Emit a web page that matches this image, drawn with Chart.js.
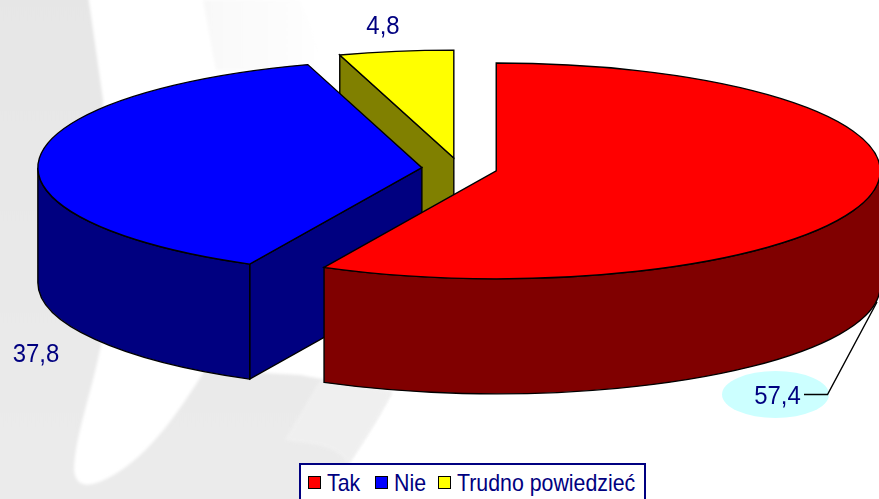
<!DOCTYPE html>
<html lang="pl">
<head>
<meta charset="utf-8">
<title>Wykres</title>
<script src="https://cdn.jsdelivr.net/npm/chart.js@4"></script>
<style>
    html, body { margin: 0; padding: 0; background: #fff; overflow: hidden; }
    #wrap { position: relative; width: 879px; height: 499px; overflow: hidden; font-family: "Liberation Sans", Arial, sans-serif; }
    #bg { position: absolute; left: 0; top: 0; }
    #chart { position: absolute; left: 0; top: 0; }
    #legend { position: absolute; left: 299px; top: 463px; width: 347px; height: 40px; box-sizing: border-box;
        border: 2px solid #000080; background: #fff; color: #000080; font-size: 23.2px; white-space: nowrap; }
    #legend span.item { position: absolute; top: 5px; line-height: 26px; transform: scaleX(0.92); transform-origin: left center; }
    #legend i { position: absolute; top: 11px; width: 11px; height: 11px; border: 1.5px solid #000; }
</style>
</head>
<body>
<div id="wrap">
    <svg id="bg" width="879" height="499">
        <defs>
            <linearGradient id="szary" x1="0" y1="0" x2="0" y2="1">
                <stop offset="0" stop-color="#e6e6e6"/>
                <stop offset="1" stop-color="#ebebeb"/>
            </linearGradient>
            <linearGradient id="jasny" x1="0" y1="0" x2="1" y2="0">
                <stop offset="0" stop-color="#f8f8f8"/>
                <stop offset="1" stop-color="#ffffff"/>
            </linearGradient>
            <filter id="miekki"><feGaussianBlur stdDeviation="1.5"/></filter>
        </defs>
        <path d="M203,0 L300,0 L330,70 L216,70 Z" fill="url(#jasny)" filter="url(#miekki)"/>
        <path filter="url(#miekki)" fill="url(#szary)"
            d="M-5,-5 L88,-5 L103,100 L102,340 C90,400 75,435 74,470 C76,490 92,487 112,476 C150,455 180,410 205,370 L300,375 L392,392 C375,425 360,445 345,470 L340,505 L-5,505 Z"/>
        <path filter="url(#miekki)" fill="#f2f2f2" opacity="0.7"
            d="M320,380 L392,392 C378,420 362,445 348,465 C335,440 300,445 285,440 Z"/>
    </svg>
    <canvas id="chart" width="879" height="499"></canvas>
    <div id="legend"></div>
</div>
<script>
    // Dane wykresu
    const categories = ['Tak', 'Nie', 'Trudno powiedzieć'];
    const values = [57.4, 37.8, 4.8];
    const topColors = ['#ff0000', '#0000ff', '#ffff00'];
    const wallColors = ['#800000', '#000080', '#808000'];

    // Wyglad "3D"
    const squash = 0.281;
    const depth = 115;
    const explode = 37.75;
    const navy = '#000080';

    // Sciana boczna i ramki wycinka, liczone z elementu arc
    function drawSlice(ctx, arc, i, cx, cy) {
        const start = arc.startAngle;
        const end = arc.endAngle;
        const r = arc.outerRadius;
        const mid = (start + end) / 2;
        const dx = Math.cos(mid) * explode;
        const dy = Math.sin(mid) * explode;
        const px = cx + dx;
        const py = cy + dy * squash;
        const pt = a => [px + r * Math.cos(a), py + r * squash * Math.sin(a)];

        ctx.lineWidth = 1.4;
        ctx.strokeStyle = '#000';
        ctx.fillStyle = wallColors[i];

        // sciana od strony ciecia
        if (Math.cos(start) < 0) {
            const p = pt(start);
            ctx.beginPath();
            ctx.moveTo(px, py);
            ctx.lineTo(p[0], p[1]);
            ctx.lineTo(p[0], p[1] + depth);
            ctx.lineTo(px, py + depth);
            ctx.closePath();
            ctx.fill();
            ctx.stroke();
        }

        // sciana zaokraglona, tylko dolna polowa elipsy
        const a0 = Math.max(start, 0);
        const a1 = Math.min(end, Math.PI);
        if (a1 > a0) {
            ctx.beginPath();
            ctx.ellipse(px, py, r, r * squash, 0, a0, a1);
            ctx.ellipse(px, py + depth, r, r * squash, 0, a1, a0, true);
            ctx.closePath();
            ctx.fill();
            ctx.stroke();
        }

        // gore wycinka rysuje sam Chart.js, sciesniona w pionie i przesunieta
        ctx.save();
        ctx.translate(cx, cy);
        ctx.scale(1, squash);
        ctx.translate(dx - cx, dy - cy);
        arc.draw(ctx);
        ctx.restore();

        ctx.lineWidth = 1.4;
        ctx.strokeStyle = '#000';
        ctx.beginPath();
        ctx.moveTo(px, py);
        ctx.ellipse(px, py, r, r * squash, 0, start, end);
        ctx.closePath();
        ctx.stroke();
    }

    const pie3d = {
        id: 'pie3d',
        beforeDatasetsDraw(chart) {
            const ctx = chart.ctx;
            const arcs = chart.getDatasetMeta(0).data;
            const cx = (chart.chartArea.left + chart.chartArea.right) / 2;
            const cy = (chart.chartArea.top + chart.chartArea.bottom) / 2;
            ctx.save();
            // od tylu do przodu, zeby czerwony przykryl reszte
            for (let i = arcs.length - 1; i >= 0; i--) {
                drawSlice(ctx, arcs[i], i, cx, cy);
            }
            ctx.restore();
            return false;
        }
    };

    const valueLabels = {
        id: 'valueLabels',
        afterDraw(chart) {
            const ctx = chart.ctx;
            const spots = [[777.5, 404], [36, 362], [383, 34]];
            ctx.save();

            // tlo i linia odniesienia przy 57,4
            ctx.fillStyle = '#ccffff';
            ctx.beginPath();
            ctx.ellipse(775.5, 394.5, 53.5, 23.5, 0, 0, Math.PI * 2);
            ctx.fill();
            ctx.strokeStyle = '#000';
            ctx.lineWidth = 1.4;
            ctx.beginPath();
            ctx.moveTo(804, 394.5);
            ctx.lineTo(827.5, 394.5);
            ctx.lineTo(877, 302);
            ctx.stroke();

            ctx.fillStyle = navy;
            ctx.font = '26px "Liberation Sans", Arial, sans-serif';
            ctx.textAlign = 'center';
            ctx.textBaseline = 'alphabetic';
            values.forEach((v, i) => {
                // tekst w oryginale jest nieco wezszy
                ctx.save();
                ctx.translate(spots[i][0], spots[i][1]);
                ctx.scale(0.92, 1);
                ctx.fillText(v.toFixed(1).replace('.', ','), 0, 0);
                ctx.restore();
            });
            ctx.restore();
        }
    };

    new Chart(document.getElementById('chart').getContext('2d'), {
        type: 'pie',
        data: {
            labels: categories,
            datasets: [{
                data: values,
                backgroundColor: topColors,
                borderWidth: 0,
                radius: 384
            }]
        },
        options: {
            responsive: false,
            animation: false,
            events: [],
            layout: { padding: { left: 40, bottom: 162 } },
            plugins: {
                legend: { display: false },
                tooltip: { enabled: false }
            }
        },
        plugins: [pie3d, valueLabels]
    });

    // Legenda w ramce na dole
    const legendEl = document.getElementById('legend');
    const boxX = [7, 74, 137];
    const textX = [26, 93, 156];
    categories.forEach((name, i) => {
        const box = document.createElement('i');
        box.style.left = boxX[i] + 'px';
        box.style.background = topColors[i];
        legendEl.appendChild(box);
        const label = document.createElement('span');
        label.className = 'item';
        label.style.left = textX[i] + 'px';
        label.textContent = name;
        legendEl.appendChild(label);
    });
</script>
</body>
</html>
